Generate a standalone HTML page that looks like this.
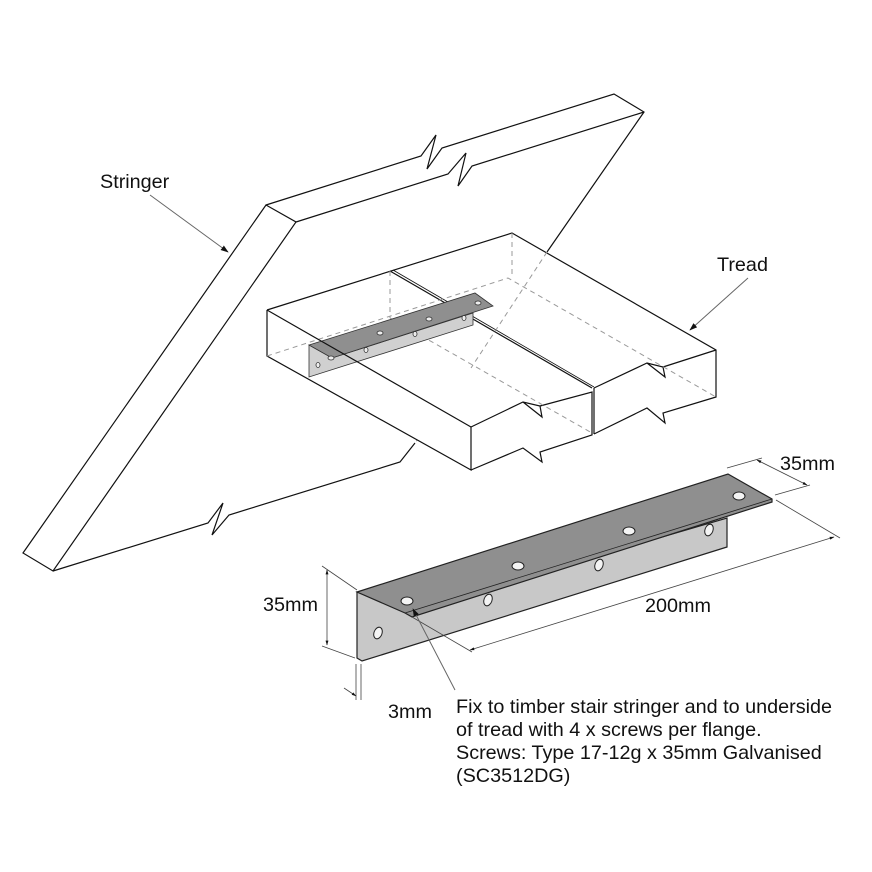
<!DOCTYPE html>
<html><head><meta charset="utf-8"><style>
html,body{margin:0;padding:0;background:#fff}
svg{display:block}
text{font-family:"Liberation Sans",Arial,sans-serif;font-size:19.8px;fill:#111}
</style></head><body>
<svg width="872" height="872" viewBox="0 0 872 872" xmlns="http://www.w3.org/2000/svg">
<defs>
<marker id="ar" viewBox="0 0 10 10" refX="9" refY="5" markerWidth="8" markerHeight="8" orient="auto"><path d="M0,1.5 L10,5 L0,8.5 z" fill="#111"/></marker>
<marker id="sa" viewBox="0 0 10 10" refX="9" refY="5" markerWidth="6" markerHeight="6" orient="auto-start-reverse"><path d="M0,2 L10,5 L0,8 z" fill="#111"/></marker>
</defs>
<g fill="none" stroke="#111" stroke-width="1.2" stroke-linejoin="miter">
<polygon points="266,205 23,553 53,571 296,222" fill="#fff"/>
<polyline points="266,205 421,156 436,135 427,169 442,148 614,94 644,112 547,252"/>
<polyline points="296,222 448,174 466,153 458,186 472,166 644,112"/>
<polyline points="53,571 208,523 223,503 212,535 229,515 400,462 415,443"/>
</g>
<g fill="none" stroke="#999" stroke-width="1" stroke-dasharray="5,4">
<line x1="547" y1="252" x2="415" y2="443"/>
</g>
<g stroke="#111" stroke-width="1.2" fill="#fff">
<polygon points="267,310 512,233 716,350 716,397 665,423 663,413 647,408 594,434 592,435 542,462 540,452 523,448 471,470 267,356" fill="#fff" stroke="none"/>
<polyline fill="none" points="267,310 512,233 716,350 716,397 663,413 665,423 647,408 594,434"/>
<polyline fill="none" points="267,310 267,356 471,470 471,427"/>
<polyline fill="none" points="471,427 523,402 540,406 542,417 523,402"/>
<polyline fill="none" points="540,406 592,392 592,435 540,452 542,462 523,448 471,470"/>
<polyline fill="none" points="594,388 647,363 663,367 665,377 647,363"/>
<polyline fill="none" points="663,367 716,350"/>
<line x1="594" y1="388" x2="594" y2="434"/>
<line x1="390" y1="271" x2="592" y2="388"/>
<line x1="393" y1="270" x2="594" y2="387" stroke-width="0.8"/>
</g>
<g fill="none" stroke="#999" stroke-width="1" stroke-dasharray="5,4">
<line x1="512" y1="233" x2="512" y2="278"/>
<polyline points="267,356 508,278 716,397"/>
<line x1="390" y1="271" x2="390" y2="318"/>
<line x1="390" y1="318" x2="592" y2="433"/>
<line x1="547" y1="252" x2="471" y2="368"/>
</g>
<g stroke="#333" stroke-width="0.8">
<polygon points="309,345 332,358 473,313 473,325 309,377" fill="#d0d0d0"/>
<polygon points="309,345 475,293 493,306 332,358" fill="#8f8f8f"/>
<g fill="#eee"><ellipse cx="331" cy="358" rx="3" ry="2"/><ellipse cx="380" cy="333" rx="3" ry="2"/><ellipse cx="429" cy="319" rx="3" ry="2"/><ellipse cx="478" cy="303" rx="3" ry="2"/>
<ellipse cx="318" cy="365" rx="2" ry="2.5"/><ellipse cx="366" cy="350" rx="2" ry="2.5"/><ellipse cx="415" cy="334" rx="2" ry="2.5"/><ellipse cx="464" cy="318" rx="2" ry="2.5"/></g>
</g>
<line x1="267" y1="310" x2="471" y2="427" stroke="#111" stroke-width="1.2"/>
<g stroke="#222" stroke-width="1.2">
<polygon points="357,592 405,612 727,518 727,547 362,661 357,658" fill="#c8c8c8"/>
<polygon points="357,592 728,474 772,499 772,502 412,617 405,613" fill="#8f8f8f"/>
<line x1="405" y1="613" x2="772" y2="499" stroke-width="0.8"/>
<g fill="#f4f4f4" stroke-width="1">
<ellipse cx="407" cy="601" rx="6" ry="4"/><ellipse cx="518" cy="566" rx="6" ry="4"/><ellipse cx="629" cy="531" rx="6" ry="4"/><ellipse cx="739" cy="496" rx="6" ry="4"/>
<ellipse cx="378" cy="633" rx="4" ry="6" transform="rotate(20 378 633)"/><ellipse cx="488" cy="600" rx="4" ry="6" transform="rotate(20 488 600)"/><ellipse cx="599" cy="565" rx="4" ry="6" transform="rotate(20 599 565)"/><ellipse cx="709" cy="530" rx="4" ry="6" transform="rotate(20 709 530)"/>
</g>
</g>
<g stroke="#444" stroke-width="0.8" fill="none">
<line x1="357" y1="590" x2="322" y2="566"/>
<line x1="355" y1="658" x2="322" y2="646"/>
<line x1="327" y1="570" x2="327" y2="645" marker-start="url(#sa)" marker-end="url(#sa)"/>
<line x1="356" y1="664" x2="356" y2="700"/>
<line x1="361" y1="664" x2="361" y2="700"/>
<line x1="344" y1="688" x2="356" y2="696" marker-end="url(#sa)"/>
<line x1="412" y1="617" x2="472" y2="652"/>
<line x1="776" y1="500" x2="840" y2="538"/>
<line x1="470" y1="650" x2="834" y2="537" marker-start="url(#sa)" marker-end="url(#sa)"/>
<line x1="727" y1="468" x2="762" y2="458"/>
<line x1="775" y1="495" x2="810" y2="485"/>
<line x1="757" y1="460" x2="807" y2="485" marker-start="url(#sa)" marker-end="url(#sa)"/>
</g>
<g stroke="#666" stroke-width="1" fill="none">
<line x1="150" y1="195" x2="228" y2="252" marker-end="url(#ar)"/>
<line x1="748" y1="278" x2="690" y2="330" marker-end="url(#ar)"/>
<line x1="455" y1="690" x2="413" y2="609" marker-end="url(#ar)"/>
</g>
<text x="100" y="188">Stringer</text>
<text x="717" y="271">Tread</text>
<text x="780" y="470">35mm</text>
<text x="645" y="612">200mm</text>
<text x="263" y="611">35mm</text>
<text x="388" y="718">3mm</text>
<text x="456" y="713">Fix to timber stair stringer and to underside</text>
<text x="456" y="736">of tread with 4 x screws per flange.</text>
<text x="456" y="759">Screws: Type 17-12g x 35mm Galvanised</text>
<text x="456" y="782">(SC3512DG)</text>
</svg>
</body></html>
